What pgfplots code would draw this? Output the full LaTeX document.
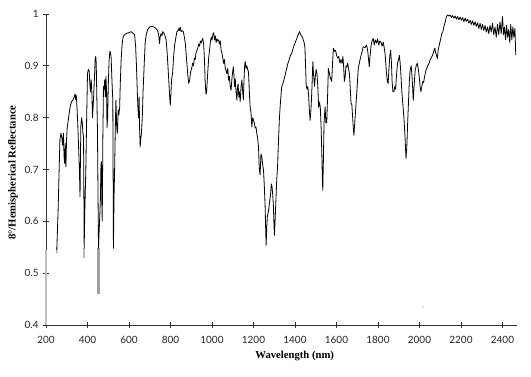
\documentclass[border=0pt]{standalone}
\usepackage{pgfplots}
\pgfplotsset{compat=1.18}
\usepackage{fontspec}
\setmainfont{Liberation Serif}
\newfontfamily\tickfont{Lato}
\begin{document}
\begin{tikzpicture}
\begin{axis}[
  name=ax,
  scale only axis,
  width=353.25pt, height=233.25pt,
  xmin=200, xmax=2470, ymin=0.4, ymax=1,
  clip=false,
  axis lines=left,
  axis line style={-, black!80, line width=0.5pt},
  xtick={200,400,600,800,1000,1200,1400,1600,1800,2000,2200,2400},
  ytick={0.4,0.5,0.6,0.7,0.8,0.9,1},
  yticklabels={0.4,0.5,0.6,0.7,0.8,0.9,1},
  tick align=center, major tick length=4pt,
  tick style={black!80, line width=0.5pt},
  /pgf/number format/1000 sep={},
  /pgf/number format/assume math mode=true,
  tick label style={font=\tickfont\fontsize{7.5}{9}\selectfont, text=black!85},
  xticklabel style={yshift=-3pt},
  xlabel={\bfseries Wavelength (nm)},
  ylabel={\bfseries 8°/Hemispherical Reflectance},
  label style={font=\fontsize{8}{10}\selectfont},
  xlabel style={at={([yshift=-23.25pt]rel axis cs:0.528,0)}, anchor=center},
  ylabel style={at={([xshift=-24.75pt]rel axis cs:0,0.49)}, anchor=center},
]
\addplot[gray!50, line width=2pt] coordinates {(200,0.4) (200,0.545)};
\addplot[gray!55, line width=1.4pt] coordinates {(384,0.53) (384,0.548)};
\addplot[gray!75, line width=1.6pt] coordinates {(453,0.46) (453,0.548)};
\addplot[gray!60, line width=1.2pt] coordinates {(251,0.538) (253,0.548)};
\addplot[only marks, mark=*, mark size=0.7pt, gray!25] coordinates {(2017,0.435)};
\addplot[black, line width=0.6pt, line join=round] table {
252 0.545
258 0.615
267 0.757
272 0.770
277 0.760
280 0.747
284 0.770
287 0.725
290 0.712
293 0.750
296 0.705
299 0.757
302 0.780
309 0.800
316 0.820
323 0.831
330 0.834
336 0.840
340 0.846
343 0.835
346 0.843
350 0.815
353 0.790
357 0.744
361 0.700
364 0.647
366 0.720
368 0.785
372 0.800
375 0.790
378 0.770
381 0.763
384 0.548
387 0.620
392 0.700
396 0.800
400 0.885
404 0.893
408 0.890
412 0.860
414 0.850
418 0.873
421 0.850
424 0.800
427 0.820
430 0.845
434 0.880
437 0.914
440 0.918
442 0.905
445 0.840
448 0.776
451 0.640
453 0.548
456 0.580
459 0.609
462 0.640
465 0.712
467 0.715
469 0.640
471 0.600
474 0.760
477 0.860
480 0.855
483 0.873
486 0.840
489 0.880
492 0.850
494 0.780
497 0.800
500 0.860
504 0.910
508 0.928
511 0.925
514 0.915
518 0.870
522 0.834
525 0.548
528 0.650
531 0.705
534 0.780
537 0.834
541 0.780
544 0.770
548 0.815
551 0.805
555 0.820
558 0.866
562 0.910
566 0.937
570 0.952
574 0.958
582 0.961
590 0.963
600 0.964
610 0.966
619 0.963
627 0.960
632 0.937
636 0.900
640 0.850
643 0.820
646 0.800
649 0.840
651 0.780
654 0.744
657 0.760
660 0.770
664 0.800
668 0.853
673 0.900
678 0.945
683 0.960
690 0.970
700 0.975
710 0.976
720 0.975
730 0.972
738 0.968
743 0.960
747 0.943
750 0.955
754 0.962
759 0.958
763 0.966
770 0.962
775 0.956
779 0.950
784 0.925
788 0.898
792 0.870
796 0.840
799 0.824
802 0.845
805 0.873
810 0.885
815 0.918
820 0.940
826 0.955
831 0.966
836 0.968
840 0.972
843 0.968
847 0.975
851 0.966
856 0.968
862 0.966
867 0.955
871 0.945
875 0.925
879 0.905
884 0.880
888 0.866
892 0.872
897 0.888
902 0.895
907 0.905
911 0.900
915 0.915
919 0.912
923 0.925
928 0.930
932 0.935
936 0.942
940 0.938
944 0.948
948 0.944
952 0.950
956 0.953
960 0.940
964 0.910
967 0.870
971 0.845
974 0.850
977 0.870
980 0.890
984 0.915
988 0.930
992 0.945
996 0.955
1000 0.950
1004 0.960
1008 0.964
1012 0.950
1016 0.958
1020 0.945
1024 0.952
1028 0.948
1032 0.950
1036 0.942
1040 0.948
1044 0.930
1048 0.925
1052 0.915
1056 0.905
1060 0.912
1064 0.895
1068 0.890
1072 0.885
1076 0.895
1080 0.872
1084 0.880
1088 0.860
1092 0.853
1096 0.875
1100 0.890
1103 0.898
1106 0.880
1109 0.860
1112 0.875
1116 0.850
1120 0.834
1123 0.860
1126 0.865
1129 0.840
1132 0.850
1136 0.831
1140 0.860
1144 0.873
1148 0.850
1151 0.834
1155 0.880
1158 0.905
1161 0.908
1164 0.895
1168 0.900
1172 0.893
1176 0.888
1180 0.850
1184 0.820
1188 0.810
1192 0.782
1196 0.800
1200 0.795
1204 0.790
1208 0.780
1212 0.782
1216 0.770
1220 0.760
1224 0.745
1228 0.700
1232 0.690
1236 0.730
1240 0.725
1244 0.710
1248 0.700
1252 0.670
1256 0.630
1259 0.580
1261 0.554
1264 0.590
1267 0.610
1270 0.615
1274 0.625
1278 0.640
1282 0.650
1286 0.672
1289 0.668
1292 0.655
1296 0.630
1299 0.590
1301 0.573
1304 0.600
1308 0.640
1312 0.680
1316 0.705
1320 0.750
1325 0.800
1330 0.830
1336 0.860
1342 0.866
1348 0.875
1354 0.885
1360 0.895
1366 0.905
1372 0.912
1378 0.920
1384 0.924
1390 0.932
1396 0.940
1402 0.946
1408 0.952
1413 0.958
1418 0.962
1422 0.966
1426 0.962
1431 0.958
1436 0.955
1440 0.950
1444 0.945
1448 0.935
1451 0.900
1454 0.862
1458 0.855
1462 0.860
1466 0.840
1470 0.810
1473 0.795
1477 0.815
1481 0.850
1486 0.908
1490 0.880
1494 0.860
1498 0.880
1502 0.893
1506 0.885
1510 0.860
1514 0.820
1518 0.830
1522 0.820
1526 0.780
1529 0.737
1532 0.680
1534 0.660
1537 0.720
1540 0.790
1545 0.821
1549 0.790
1553 0.790
1557 0.840
1561 0.895
1566 0.885
1572 0.875
1577 0.870
1581 0.905
1585 0.934
1590 0.928
1595 0.930
1601 0.920
1606 0.915
1611 0.918
1617 0.905
1622 0.912
1627 0.905
1631 0.918
1635 0.895
1638 0.870
1642 0.880
1646 0.900
1650 0.898
1654 0.905
1658 0.895
1662 0.886
1666 0.860
1670 0.828
1674 0.825
1678 0.800
1681 0.780
1684 0.766
1688 0.790
1693 0.820
1698 0.850
1705 0.895
1713 0.911
1721 0.924
1729 0.937
1737 0.935
1745 0.940
1750 0.930
1754 0.915
1758 0.898
1762 0.920
1766 0.937
1770 0.946
1777 0.953
1782 0.940
1787 0.950
1793 0.944
1798 0.952
1804 0.940
1809 0.948
1815 0.945
1820 0.938
1825 0.946
1830 0.935
1835 0.920
1840 0.890
1845 0.870
1849 0.866
1853 0.895
1857 0.920
1861 0.930
1865 0.905
1868 0.870
1872 0.850
1877 0.850
1881 0.860
1885 0.855
1889 0.880
1894 0.905
1899 0.912
1903 0.920
1907 0.905
1911 0.880
1915 0.850
1919 0.830
1925 0.800
1930 0.765
1935 0.721
1939 0.745
1943 0.790
1947 0.830
1951 0.870
1955 0.892
1960 0.900
1964 0.880
1968 0.850
1970 0.833
1974 0.860
1979 0.890
1984 0.900
1989 0.905
1994 0.895
1999 0.878
2003 0.860
2007 0.850
2011 0.860
2016 0.870
2020 0.868
2025 0.880
2030 0.890
2035 0.895
2040 0.900
2046 0.905
2050 0.910
2056 0.915
2062 0.920
2066 0.924
2070 0.930
2074 0.934
2078 0.925
2082 0.920
2086 0.914
2090 0.930
2095 0.940
2100 0.948
2104 0.955
2108 0.963
2112 0.965
2118 0.976
2124 0.985
2130 0.995
2136 0.998
2142 0.996
2148 0.998
2154 0.993
2160 0.997
2166 0.992
2172 0.996
2178 0.990
2184 0.995
2190 0.989
2196 0.994
2202 0.988
2208 0.993
2214 0.985
2220 0.992
2226 0.986
2232 0.990
2238 0.982
2244 0.988
2250 0.980
2256 0.987
2262 0.978
2268 0.985
2274 0.976
2280 0.983
2286 0.972
2292 0.982
2298 0.970
2304 0.980
2310 0.968
2316 0.978
2322 0.965
2328 0.975
2334 0.962
2340 0.978
2346 0.965
2352 0.982
2358 0.960
2364 0.975
2370 0.955
2376 0.980
2382 0.960
2388 0.985
2394 0.962
2400 0.995
2405 0.960
2410 0.975
2415 0.950
2420 0.978
2425 0.955
2430 0.970
2435 0.945
2440 0.980
2445 0.950
2450 0.975
2455 0.955
2460 0.972
2464 0.921
};
\end{axis}
\path ([shift={(-34.5pt,-39pt)}]ax.south west) ([shift={(10.5pt,10.5pt)}]ax.north east);
\end{tikzpicture}
\end{document}
